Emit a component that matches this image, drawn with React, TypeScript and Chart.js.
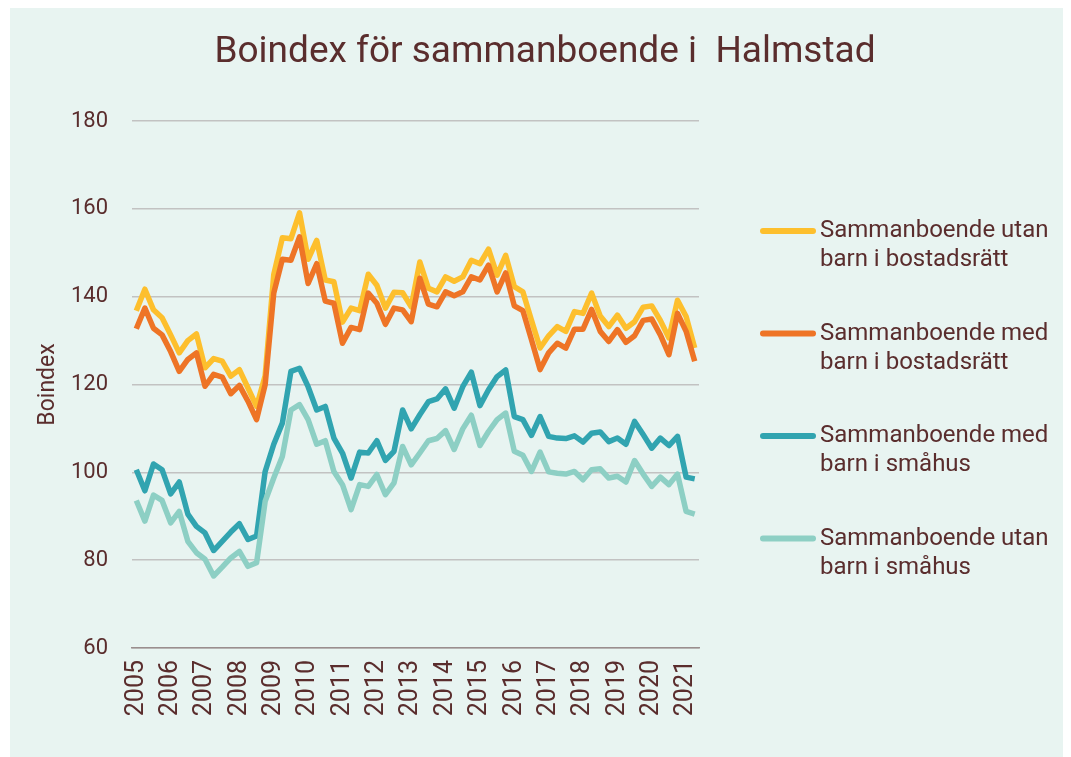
import React, { useEffect, useRef } from "react";
import { Chart, registerables } from "chart.js";

Chart.register(...registerables);

const years = ["2005","2006","2007","2008","2009","2010","2011","2012","2013","2014","2015","2016","2017","2018","2019","2020","2021"];
const quarters = ["K1", "K2", "K3", "K4"];
const pointCount = 66;

const utanBostadsratt = [
  136.8, 141.7, 137.0, 135.2, 131.3, 127.2, 130.0, 131.5, 123.8, 125.9, 125.3, 121.9, 123.4, 119.2, 115.0, 122.0,
  145.0, 153.4, 153.2, 159.1, 148.5, 152.8, 143.8, 143.4, 134.2, 137.4, 136.8, 145.1, 142.6, 137.4, 141.0, 140.9,
  137.7, 147.9, 141.9, 141.1, 144.5, 143.5, 144.5, 148.3, 147.5, 150.8, 144.9, 149.4, 142.3, 141.1, 134.6, 128.3,
  131.1, 133.2, 132.1, 136.6, 136.2, 140.8, 135.6, 133.2, 135.8, 132.8, 134.3, 137.6, 137.9, 134.6, 130.6, 139.2,
  135.5, 128.3,
];
const medBostadsratt = [
  132.7, 137.4, 132.8, 131.3, 127.5, 123.0, 125.7, 127.2, 119.6, 122.3, 121.7, 117.9, 119.8, 116.2, 112.0, 120.0,
  140.8, 148.5, 148.3, 153.6, 143.0, 147.5, 139.0, 138.5, 129.4, 133.0, 132.5, 140.8, 138.5, 133.7, 137.4, 137.0,
  134.3, 144.2, 138.3, 137.7, 141.1, 140.2, 141.1, 144.5, 143.8, 147.2, 141.1, 145.4, 137.9, 136.8, 130.2, 123.4,
  127.2, 129.4, 128.3, 132.6, 132.6, 137.1, 132.1, 129.8, 132.5, 129.6, 131.1, 134.6, 134.9, 131.3, 126.8, 136.2,
  132.1, 125.3,
];
const medSmahus = [
  100.6, 95.8, 101.9, 100.6, 95.1, 97.8, 90.5, 87.7, 86.2, 82.2, 84.3, 86.4, 88.3, 84.7, 85.5, 100.2,
  106.4, 111.2, 123.0, 123.7, 119.5, 114.2, 115.0, 107.8, 104.4, 98.7, 104.6, 104.4, 107.2, 102.7, 104.8, 114.2,
  109.9, 113.1, 116.1, 116.7, 119.0, 114.6, 119.5, 122.8, 115.2, 118.8, 121.8, 123.3, 112.7, 112.0, 108.4, 112.7,
  108.2, 107.8, 107.7, 108.3, 106.9, 108.9, 109.2, 107.0, 107.8, 106.4, 111.6, 108.6, 105.5, 107.8, 106.1, 108.2,
  98.9, 98.5,
];
const utanSmahus = [
  93.6, 88.9, 94.8, 93.6, 88.5, 91.1, 84.3, 81.7, 80.2, 76.4, 78.4, 80.5, 82.0, 78.6, 79.4, 93.4,
  98.7, 103.6, 114.2, 115.4, 112.0, 106.4, 107.2, 100.2, 97.2, 91.5, 97.2, 96.8, 99.5, 94.9, 97.6, 105.9,
  101.7, 104.4, 107.2, 107.7, 109.5, 105.2, 109.9, 113.0, 106.1, 109.3, 112.0, 113.5, 104.8, 103.9, 100.2, 104.6,
  100.1, 99.8, 99.6, 100.2, 98.3, 100.6, 100.8, 98.7, 99.1, 97.8, 102.7, 99.6, 96.8, 98.9, 97.2, 99.6,
  91.1, 90.5,
];

const seriesNames = [
  ["Sammanboende utan", "barn i bostadsrätt"],
  ["Sammanboende med", "barn i bostadsrätt"],
  ["Sammanboende med", "barn i småhus"],
  ["Sammanboende utan", "barn i småhus"],
];
const seriesColors = ["#FDBF2D", "#EE7426", "#31A4B0", "#8DCFC4"];
const seriesValues = [utanBostadsratt, medBostadsratt, medSmahus, utanSmahus];

const yTicks = [60, 80, 100, 120, 140, 160, 180];
const titleText = "Boindex för sammanboende i  Halmstad";

const TEXT = "#5A2D2D";
const FONT = "Roboto";

const categories: string[] = [];
years.forEach((y) => quarters.forEach((q) => categories.push(`${y} ${q}`)));
const labels = categories.slice(0, pointCount);

const sideLegend = {
  id: "sideLegend",
  afterDraw(chart: any) {
    const { ctx, chartArea, width } = chart;
    ctx.save();
    // title
    ctx.fillStyle = TEXT;
    ctx.font = `37px ${FONT}`;
    ctx.textAlign = "center";
    ctx.textBaseline = "middle";
    ctx.fillText(titleText, width / 2 + 8.5, 45);
    // legend
    chart.data.datasets.forEach((ds: any, i: number) => {
      const cy = chartArea.top + 110 + i * 102.5;
      const x0 = chartArea.right + 61;
      ctx.strokeStyle = ds.borderColor;
      ctx.lineWidth = 6;
      ctx.lineCap = "round";
      ctx.beginPath();
      ctx.moveTo(x0 + 3, cy);
      ctx.lineTo(x0 + 53, cy);
      ctx.stroke();
      ctx.fillStyle = TEXT;
      ctx.font = `24px ${FONT}`;
      ctx.textAlign = "left";
      ctx.textBaseline = "middle";
      seriesNames[i].forEach((line, j) => {
        ctx.fillText(line, x0 + 60, cy + j * 29);
      });
    });
    ctx.restore();
  },
};

export default function App() {
  const ref = useRef<HTMLCanvasElement>(null);
  useEffect(() => {
    if (!ref.current) return;
    const chart = new Chart(ref.current, {
      type: "line",
      data: {
        labels,
        datasets: seriesValues.map((vals, i) => ({
          label: seriesNames[i].join(" "),
          data: vals,
          borderColor: seriesColors[i],
          backgroundColor: seriesColors[i],
          borderWidth: 5.5,
          pointRadius: 0,
          pointHoverRadius: 0,
          tension: 0,
          borderJoinStyle: "round" as const,
          borderCapStyle: "butt" as const,
          fill: false,
          order: seriesValues.length - i,
        })),
      },
      options: {
        animation: false,
        responsive: true,
        maintainAspectRatio: false,
        layout: { padding: { left: 0, right: 364, top: 113, bottom: 0 } },
        plugins: {
          legend: { display: false },
          tooltip: { enabled: false },
          title: { display: false },
        },
        scales: {
          x: {
            type: "category",
            offset: true,
            grid: { display: false, drawTicks: false },
            border: { display: true, color: "#9A8E8E", width: 1.5 },
            ticks: {
              autoSkip: false,
              minRotation: 90,
              maxRotation: 90,
              padding: 12,
              color: TEXT,
              font: { family: FONT, size: 25 },
              callback: (_v: any, idx: number) => (idx % 4 === 0 ? years[idx / 4] : ""),
            },
            afterFit: (scale: any) => {
              scale.height = 109;
            },
          },
          y: {
            min: yTicks[0],
            max: yTicks[yTicks.length - 1],
            afterBuildTicks: (scale: any) => {
              scale.ticks = yTicks.map((v) => ({ value: v }));
            },
            grid: { color: "#C2C2C2", lineWidth: 1.5, drawTicks: false },
            border: { display: false },
            ticks: {
              padding: 24,
              color: TEXT,
              font: { family: FONT, size: 22 },
            },
            title: {
              display: true,
              text: "Boindex",
              color: TEXT,
              font: { family: FONT, size: 23 },
              padding: { top: 24, bottom: 0 },
            },
            afterFit: (scale: any) => {
              scale.width = 122;
            },
          },
        },
      },
      plugins: [sideLegend],
    });
    return () => chart.destroy();
  }, []);

  return (
    <div style={{ width: 1053, height: 749, marginLeft: 2, background: "#E8F4F1", position: "relative" }}>
      <canvas ref={ref} />
    </div>
  );
}
